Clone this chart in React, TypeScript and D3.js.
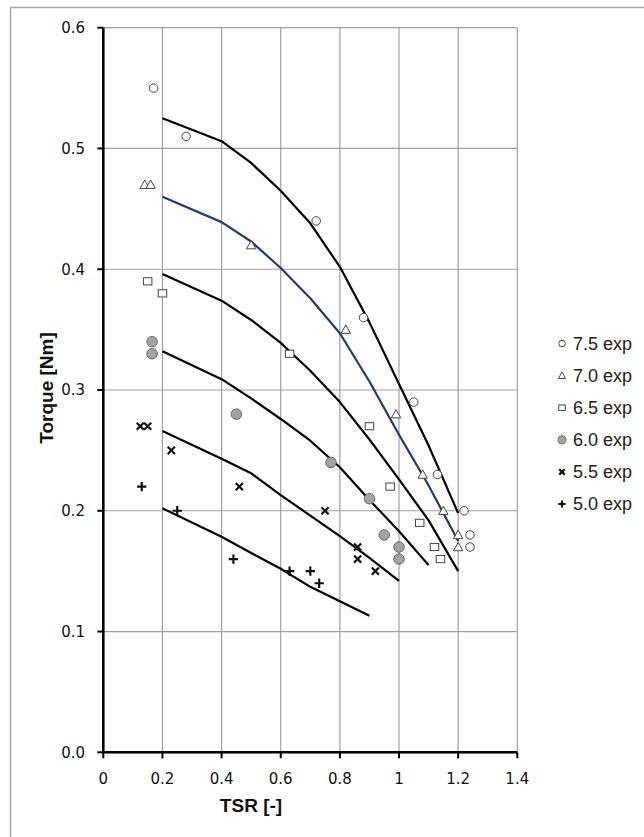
import * as d3 from 'd3';
import React, { useEffect, useRef } from 'react';

// model curves (lines), TSR values shared by every curve
const modelTsr = [0.2, 0.4, 0.5, 0.6, 0.7, 0.8, 0.9, 1.0, 1.1, 1.2];
const model75 = [0.525, 0.506, 0.488, 0.465, 0.438, 0.402, 0.356, 0.305, 0.254, 0.198];
const model70 = [0.46, 0.439, 0.423, 0.401, 0.376, 0.347, 0.307, 0.263, 0.221, 0.175];
const model65 = [0.396, 0.374, 0.358, 0.339, 0.316, 0.29, 0.259, 0.226, 0.192, 0.15];
const model60 = [0.332, 0.309, 0.293, 0.276, 0.258, 0.236, 0.209, 0.183, 0.155];
const model55 = [0.266, 0.243, 0.231, 0.213, 0.196, 0.179, 0.161, 0.142];
const model50 = [0.202, 0.1785, 0.165, 0.152, 0.137, 0.125, 0.113];

// experimental points [TSR, torque]
const exp75: [number, number][] = [[0.17, 0.55], [0.28, 0.51], [0.72, 0.44], [0.88, 0.36], [1.05, 0.29], [1.13, 0.23], [1.22, 0.2], [1.24, 0.18], [1.24, 0.17]];
const exp70: [number, number][] = [[0.14, 0.47], [0.16, 0.47], [0.5, 0.42], [0.82, 0.35], [0.99, 0.28], [1.08, 0.23], [1.15, 0.2], [1.2, 0.18], [1.2, 0.17]];
const exp65: [number, number][] = [[0.15, 0.39], [0.2, 0.38], [0.63, 0.33], [0.9, 0.27], [0.97, 0.22], [1.07, 0.19], [1.12, 0.17], [1.14, 0.16]];
const exp60: [number, number][] = [[0.165, 0.34], [0.165, 0.33], [0.45, 0.28], [0.77, 0.24], [0.9, 0.21], [0.95, 0.18], [1.0, 0.17], [1.0, 0.16]];
const exp55: [number, number][] = [[0.125, 0.27], [0.15, 0.27], [0.23, 0.25], [0.46, 0.22], [0.75, 0.2], [0.86, 0.17], [0.86, 0.16], [0.92, 0.15]];
const exp50: [number, number][] = [[0.13, 0.22], [0.25, 0.2], [0.44, 0.16], [0.63, 0.15], [0.7, 0.15], [0.73, 0.14]];

const legendLabels = ['7.5 exp', '7.0 exp', '6.5 exp', '6.0 exp', '5.5 exp', '5.0 exp'];
const xTicks = [0, 0.2, 0.4, 0.6, 0.8, 1.0, 1.2, 1.4];
const yTicks = [0, 0.1, 0.2, 0.3, 0.4, 0.5, 0.6];

const W = 644;
const H = 837;

type Shape = 'circle' | 'triangle' | 'square' | 'dot' | 'cross' | 'plus';

// draws one marker into a group
function drawMarker(g: d3.Selection<SVGGElement, unknown, null, undefined>, shape: Shape, cx: number, cy: number, s: number) {
    if (shape === 'circle') {
        g.append('circle').attr('cx', cx).attr('cy', cy).attr('r', s * 0.5)
            .attr('fill', 'white').attr('stroke', '#444').attr('stroke-width', 1);
    } else if (shape === 'dot') {
        g.append('circle').attr('cx', cx).attr('cy', cy).attr('r', s * 0.62)
            .attr('fill', '#a3a3a3').attr('stroke', '#6a6a6a').attr('stroke-width', 1);
    } else if (shape === 'square') {
        g.append('rect').attr('x', cx - s * 0.5).attr('y', cy - s * 0.42).attr('width', s).attr('height', s * 0.84)
            .attr('fill', 'white').attr('stroke', '#444').attr('stroke-width', 1);
    } else if (shape === 'triangle') {
        const h = s * 0.55;
        g.append('path').attr('d', `M${cx},${cy - h}L${cx + h},${cy + h * 0.8}L${cx - h},${cy + h * 0.8}Z`)
            .attr('fill', 'white').attr('stroke', '#444').attr('stroke-width', 1);
    } else if (shape === 'cross') {
        const h = s * 0.42;
        g.append('path').attr('d', `M${cx - h},${cy - h}L${cx + h},${cy + h}M${cx - h},${cy + h}L${cx + h},${cy - h}`)
            .attr('stroke', '#111').attr('stroke-width', 2.2);
    } else {
        const h = s * 0.55;
        g.append('path').attr('d', `M${cx - h},${cy}L${cx + h},${cy}M${cx},${cy - h}L${cx},${cy + h}`)
            .attr('stroke', '#111').attr('stroke-width', 2.2);
    }
}

const App: React.FC = () => {
    const svgRef = useRef<SVGSVGElement | null>(null);

    useEffect(() => {
        const svg = d3.select(svgRef.current);
        svg.selectAll('*').remove();

        const x = d3.scaleLinear().domain([0, 1.4]).range([103.3, 517.3]);
        const y = d3.scaleLinear().domain([0, 0.6]).range([752.3, 27.7]);

        svg.append('rect').attr('width', W).attr('height', H).attr('fill', 'white');
        svg.append('rect').attr('x', 10.5).attr('y', 7.5).attr('width', 800).attr('height', 900)
            .attr('fill', 'none').attr('stroke', '#a8a8a8').attr('stroke-width', 1.5);

        // gridlines
        const grid = svg.append('g').attr('stroke', '#a0a0a0').attr('stroke-width', 1.2);
        xTicks.slice(1).forEach(t => {
            grid.append('line').attr('x1', x(t)).attr('x2', x(t)).attr('y1', y(0)).attr('y2', y(0.6));
        });
        yTicks.slice(1).forEach(t => {
            grid.append('line').attr('x1', x(0)).attr('x2', x(1.4)).attr('y1', y(t)).attr('y2', y(t));
        });

        // axes
        const axes = svg.append('g').attr('stroke', '#000');
        axes.append('line').attr('x1', x(0)).attr('x2', x(0)).attr('y1', y(0) + 1).attr('y2', y(0.6)).attr('stroke-width', 2.6);
        axes.append('line').attr('x1', x(0) - 1).attr('x2', x(1.4)).attr('y1', y(0)).attr('y2', y(0)).attr('stroke-width', 2.6);
        xTicks.forEach(t => {
            axes.append('line').attr('x1', x(t)).attr('x2', x(t)).attr('y1', y(0)).attr('y2', y(0) + 6).attr('stroke-width', 2);
        });
        yTicks.forEach(t => {
            axes.append('line').attr('x1', x(0) - 6).attr('x2', x(0)).attr('y1', y(t)).attr('y2', y(t)).attr('stroke-width', 2);
        });

        const tickFont = '"DejaVu Sans", sans-serif';
        svg.append('g').selectAll('text').data(xTicks).enter().append('text')
            .attr('x', d => x(d)).attr('y', 784)
            .attr('text-anchor', 'middle').attr('font-family', tickFont).attr('font-size', 15)
            .attr('fill', '#111')
            .text(d => String(+d.toFixed(1)));
        svg.append('g').selectAll('text').data(yTicks).enter().append('text')
            .attr('x', 85).attr('y', d => y(d)).attr('dy', '0.36em')
            .attr('text-anchor', 'end').attr('font-family', tickFont).attr('font-size', 15)
            .attr('fill', '#111')
            .text(d => d.toFixed(1));

        // axis titles
        svg.append('text').attr('x', 251).attr('y', 812).attr('text-anchor', 'middle')
            .attr('font-family', '"Liberation Sans", Arial, sans-serif').attr('font-weight', 'bold').attr('font-size', 19)
            .attr('fill', '#111').text('TSR [-]');
        svg.append('text').attr('transform', 'translate(53,388) rotate(-90)').attr('text-anchor', 'middle')
            .attr('font-family', '"Liberation Sans", Arial, sans-serif').attr('font-weight', 'bold').attr('font-size', 19)
            .attr('fill', '#111').text('Torque [Nm]');

        // model lines
        const line = d3.line<number>().x((_, i) => x(modelTsr[i])).y(d => y(d));
        const models: [number[], string][] = [
            [model75, '#000'], [model70, '#1f3b80'], [model65, '#000'],
            [model60, '#000'], [model55, '#000'], [model50, '#000'],
        ];
        models.forEach(([vals, color]) => {
            svg.append('path').attr('d', line(vals)).attr('fill', 'none')
                .attr('stroke', color).attr('stroke-width', 2.2).attr('stroke-linejoin', 'round');
        });

        // experimental markers
        const series: [[number, number][], Shape][] = [
            [exp75, 'circle'], [exp70, 'triangle'], [exp65, 'square'],
            [exp60, 'dot'], [exp55, 'cross'], [exp50, 'plus'],
        ];
        const marks = svg.append('g');
        series.forEach(([pts, shape]) => {
            pts.forEach(p => drawMarker(marks, shape, x(p[0]), y(p[1]), 8.5));
        });

        // legend
        const legend = svg.append('g');
        legendLabels.forEach((label, i) => {
            const cy = 343.5 + i * 32.1;
            drawMarker(legend, series[i][1], 562, cy, 6.5);
            legend.append('text').attr('x', 573).attr('y', cy).attr('dy', '0.36em')
                .attr('font-family', '"Liberation Sans", Arial, sans-serif').attr('font-size', 18)
                .attr('fill', '#222').text(label);
        });
    }, []);

    return <svg ref={svgRef} width={W} height={H} style={{ position: 'absolute', left: 0, top: 0 }}></svg>;
};

export default App;
